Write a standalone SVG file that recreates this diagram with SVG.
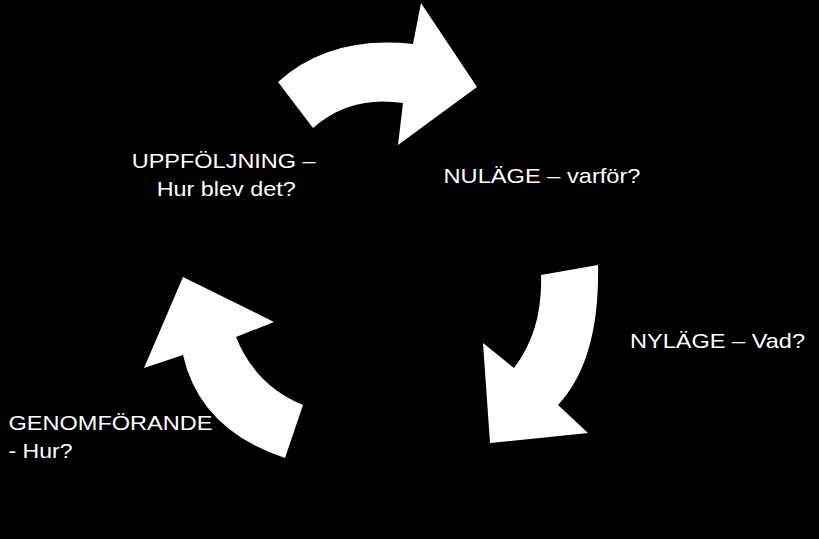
<svg xmlns="http://www.w3.org/2000/svg" width="819" height="539" viewBox="0 0 819 539">
  <style>
    .bg { fill: #000000; }
    .arrow { fill: #ffffff; stroke: none; }
    .label { fill: #ffffff; font-family: "Liberation Sans", Arial, sans-serif; font-size: 21px; }
  </style>
  <rect class="bg" x="0" y="0" width="819" height="539"/>
  <g id="connectors">
    <path id="arrow-top" class="arrow" d="M 278,82 Q 330,35 413,44 L 421,3 L 477,87 L 398,145 L 403,103 Q 350,95 313,128 Z"/>
    <path id="arrow-right" class="arrow" d="M 541,275 L 598,265 Q 600,360 558,405 L 588,433 L 490,443 L 483,343 L 514,368 Q 543,330 541,275 Z"/>
    <path id="arrow-left" class="arrow" d="M 183,277 L 274,322 L 236,337 Q 255,385 303,405 L 285,458 Q 200,430 183,355 L 144,368 Z"/>
  </g>
  <g id="node-nulage">
    <text class="label" x="443.5" y="183.3" textLength="197" lengthAdjust="spacingAndGlyphs">NULÄGE – varför?</text>
  </g>
  <g id="node-nylage">
    <text class="label" x="630" y="347.7" textLength="175" lengthAdjust="spacingAndGlyphs">NYLÄGE – Vad?</text>
  </g>
  <g id="node-genomforande">
    <text class="label" x="8.5" y="430" textLength="204" lengthAdjust="spacingAndGlyphs">GENOMFÖRANDE</text>
    <text class="label" x="8.5" y="458.3" textLength="64" lengthAdjust="spacingAndGlyphs">- Hur?</text>
  </g>
  <g id="node-uppfoljning">
    <text class="label" x="131.7" y="168.3" textLength="184" lengthAdjust="spacingAndGlyphs">UPPFÖLJNING –</text>
    <text class="label" x="156.7" y="196" textLength="139" lengthAdjust="spacingAndGlyphs">Hur blev det?</text>
  </g>
</svg>
